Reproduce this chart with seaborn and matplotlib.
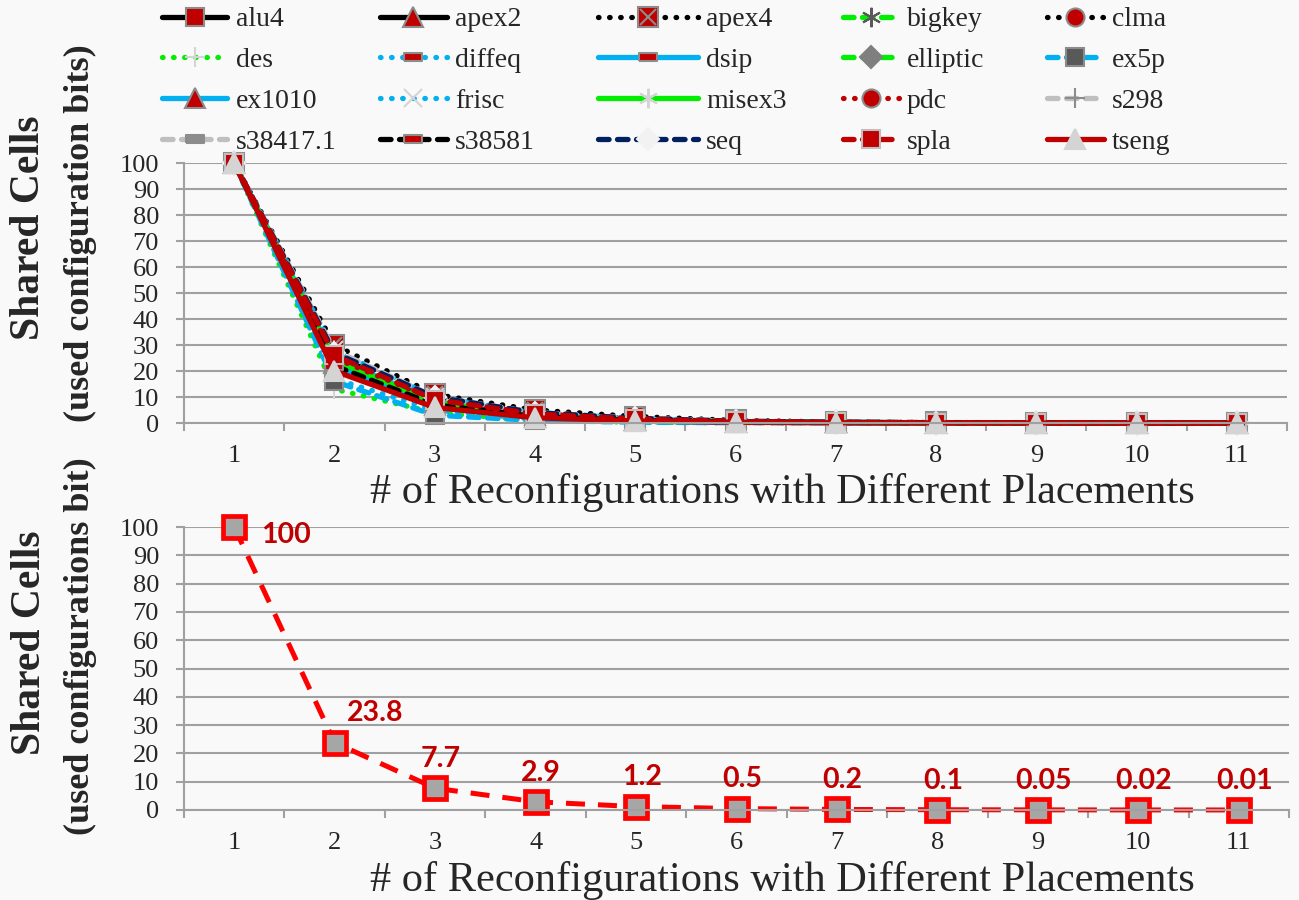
import matplotlib
matplotlib.use("Agg")
import numpy as np
import pandas as pd
import matplotlib.pyplot as plt
import seaborn as sns
from matplotlib.legend_handler import HandlerTuple

# Datos: celdas compartidas por benchmark
reconfigs = list(range(1, 12))

alu4 = [100, 24, 8, 3, 1.2, 0.5, 0.2, 0.1, 0.05, 0.02, 0.01]
apex2 = [100, 23, 7, 2.5, 1.0, 0.4, 0.2, 0.1, 0.05, 0.02, 0.01]
apex4 = [100, 30, 11, 5, 2.5, 1.0, 0.4, 0.2, 0.1, 0.05, 0.02]
bigkey = [100, 25, 8, 3, 1.2, 0.5, 0.2, 0.1, 0.05, 0.02, 0.01]
clma = [100, 26, 9, 3.5, 1.5, 0.6, 0.25, 0.1, 0.05, 0.02, 0.01]
des = [100, 13, 4, 1, 0.3, 0.1, 0.05, 0.02, 0.01, 0.0, 0.0]
diffeq = [100, 17, 5, 1.5, 0.5, 0.2, 0.1, 0.05, 0.02, 0.01, 0.0]
dsip = [100, 22, 6, 2, 0.7, 0.3, 0.1, 0.05, 0.02, 0.01, 0.0]
elliptic = [100, 26, 9, 3.5, 1.5, 0.6, 0.25, 0.1, 0.05, 0.02, 0.01]
ex5p = [100, 16, 3, 1, 0.3, 0.1, 0.05, 0.02, 0.01, 0.0, 0.0]
ex1010 = [100, 25, 8, 3, 1.2, 0.5, 0.2, 0.1, 0.05, 0.02, 0.01]
frisc = [100, 28, 10, 4, 1.8, 0.7, 0.3, 0.15, 0.07, 0.03, 0.01]
misex3 = [100, 24, 8, 3, 1.2, 0.5, 0.2, 0.1, 0.05, 0.02, 0.01]
pdc = [100, 25, 9, 3.5, 1.5, 0.6, 0.25, 0.1, 0.05, 0.02, 0.01]
s298 = [100, 28, 10, 4, 1.8, 0.7, 0.3, 0.15, 0.07, 0.03, 0.01]
s38417_1 = [100, 27, 10, 4, 1.8, 0.7, 0.3, 0.15, 0.07, 0.03, 0.01]
s38581 = [100, 22, 7, 2.5, 1.0, 0.4, 0.2, 0.1, 0.05, 0.02, 0.01]
seq = [100, 27, 10, 4, 1.8, 0.7, 0.3, 0.15, 0.07, 0.03, 0.01]
spla = [100, 26, 9, 3.5, 1.5, 0.6, 0.25, 0.1, 0.05, 0.02, 0.01]
tseng = [100, 20, 6, 2, 0.8, 0.3, 0.1, 0.05, 0.02, 0.01, 0.0]

average = [100, 23.8, 7.7, 2.9, 1.2, 0.5, 0.2, 0.1, 0.05, 0.02, 0.01]

names = ["alu4", "apex2", "apex4", "bigkey", "clma", "des", "diffeq", "dsip",
         "elliptic", "ex5p", "ex1010", "frisc", "misex3", "pdc", "s298",
         "s38417.1", "s38581", "seq", "spla", "tseng"]
series = [alu4, apex2, apex4, bigkey, clma, des, diffeq, dsip, elliptic, ex5p,
          ex1010, frisc, misex3, pdc, s298, s38417_1, s38581, seq, spla, tseng]

# Colores y estilos
BLACK = "#000000"
RED = "#C00000"
GREEN = "#00EE00"
BLUE = "#00B0F0"
NAVY = "#002060"
LGREY = "#BFBFBF"
MGREY = "#8C8C8C"
DGREY = "#595959"
PALE = "#D4D4D4"
GRID = "#A0A0A0"

SOLID = "-"
DOT = (0, (0.1, 2.0))
DASH = (0, (2.0, 1.6))
BAR = [(-1, -0.4), (1, -0.4), (1, 0.4), (-1, 0.4), (-1, -0.4)]
STAR = (6, 2, 0)

styles = {
    "alu4": (BLACK, SOLID, "s", RED, MGREY, 13),
    "apex2": (BLACK, SOLID, "^", RED, MGREY, 14),
    "apex4": (BLACK, DOT, "s", RED, MGREY, 14),
    "bigkey": (GREEN, DASH, STAR, DGREY, DGREY, 14),
    "clma": (BLACK, DOT, "o", RED, MGREY, 13),
    "des": (GREEN, DOT, "+", PALE, PALE, 14),
    "diffeq": (BLUE, DOT, BAR, RED, MGREY, 13),
    "dsip": (BLUE, SOLID, BAR, RED, MGREY, 13),
    "elliptic": (GREEN, DASH, "D", "#7F7F7F", "#7F7F7F", 11),
    "ex5p": (BLUE, DASH, "s", DGREY, MGREY, 13),
    "ex1010": (BLUE, SOLID, "^", RED, MGREY, 14),
    "frisc": (BLUE, DOT, "x", PALE, PALE, 13),
    "misex3": (GREEN, SOLID, STAR, PALE, PALE, 14),
    "pdc": (RED, DOT, "o", RED, MGREY, 13),
    "s298": (LGREY, DASH, "+", MGREY, MGREY, 14),
    "s38417.1": (LGREY, DASH, BAR, MGREY, MGREY, 13),
    "s38581": (BLACK, DASH, BAR, RED, MGREY, 13),
    "seq": (NAVY, DASH, "D", "#F2F2F2", "#F2F2F2", 11),
    "spla": (RED, DASH, "s", RED, LGREY, 13),
    "tseng": (RED, SOLID, "^", PALE, PALE, 15),
}

sns.set_style("white")
plt.rcParams["font.family"] = ["Liberation Serif", "DejaVu Serif"]

fig = plt.figure(figsize=(12.99, 9.0), dpi=100)
fig.patch.set_facecolor("#F9F9F9")
ax1 = fig.add_axes([184 / 1299, 1 - 423 / 900, 1103 / 1299, 260 / 900])
ax2 = fig.add_axes([184 / 1299, 1 - 810 / 900, 1105 / 1299, 283 / 900])


def style_axes(ax):
    ax.set_xlim(0.5, 11.5)
    ax.set_ylim(0, 100)
    ax.set_yticks(range(0, 101, 10))
    ax.set_xticks(reconfigs)
    ax.set_xticks(np.arange(0.5, 12, 1), minor=True)
    ax.tick_params(axis="x", which="major", length=0, pad=16, labelsize=19)
    ax.tick_params(axis="x", which="minor", length=6, width=1.5, color=GRID,
                   direction="out", bottom=True)
    ax.tick_params(axis="y", length=6, width=1.5, color=GRID, direction="out",
                   left=True, pad=12, labelsize=19)
    ax.grid(axis="y", color=GRID, lw=1.5)
    ax.grid(axis="x", visible=False)
    ax.set_axisbelow(True)
    for s in ["top", "right"]:
        ax.spines[s].set_visible(False)
    for s in ["left", "bottom"]:
        ax.spines[s].set_color(GRID)
        ax.spines[s].set_linewidth(1.5)
    ax.set_facecolor("none")
    ax.set_xlabel("")
    ax.set_ylabel("")


# Grafico superior: todas las series
handles = {}
for name, vals in zip(names, series):
    color, ls, marker, mfc, mec, ms = styles[name]
    sns.lineplot(x=reconfigs, y=vals, ax=ax1, color=color, linestyle=ls, lw=3.8,
                 marker=marker, markersize=ms, markerfacecolor=mfc,
                 markeredgecolor=mec, markeredgewidth=1.5, dash_capstyle="round",
                 label=name, legend=False, errorbar=None, clip_on=False)
    handles[name] = ax1.lines[-1]
    if name == "apex4":
        sns.lineplot(x=reconfigs, y=vals, ax=ax1, linestyle="none", marker="x",
                     markersize=12, markeredgecolor=MGREY, markeredgewidth=1.5,
                     label="_apex4x", legend=False, errorbar=None, clip_on=False)
        handles[name] = (handles[name], ax1.lines[-1])
style_axes(ax1)

# Leyenda: una columna por bloque, como en Excel
ncol = 5
col_x = [162, 380, 598, 843, 1047]
col_len = [2.35, 2.4, 3.6, 2.0, 2.05]
for c in range(ncol):
    col_names = names[c::ncol]
    fig.legend([handles[n] for n in col_names], col_names, loc="upper left",
               bbox_to_anchor=(col_x[c] / 1299, 1 - 7 / 900), frameon=False,
               prop={"family": "Liberation Serif", "size": 20},
               handlelength=col_len[c], handletextpad=0.3, labelspacing=0.55,
               borderaxespad=0.0, borderpad=0.0,
               handler_map={tuple: HandlerTuple(ndivide=1, pad=0)})

# Grafico inferior: promedio
sns.lineplot(x=reconfigs, y=average, ax=ax2, color="#FF0000", lw=3.6,
             linestyle=(0, (3.8, 2.6)), marker="s", markersize=16,
             markerfacecolor="#A6A6A6", markeredgecolor="#FF0000",
             markeredgewidth=3.4, legend=False, errorbar=None, clip_on=False)
style_axes(ax2)

for i, (x, v) in enumerate(zip(reconfigs, average)):
    if i == 0:
        off, ha = (19, -6), "left"
    elif i == 1:
        off, ha = (9, 21), "left"
    else:
        off, ha = (4, 21), "center"
    ax2.annotate(f"{v:g}", (x, v), xytext=off, textcoords="offset points",
                 ha=ha, va="center", color=RED, fontsize=20.5, weight="bold",
                 family=["Lato", "DejaVu Sans"])

# Titulos de ejes
xtitle = "# of Reconfigurations with Different Placements"
fig.text(782 / 1299, 1 - 493 / 900, xtitle, ha="center", va="center", fontsize=30.5)
fig.text(782 / 1299, 1 - 880 / 900, xtitle, ha="center", va="center", fontsize=30.5)
fig.text(29 / 1299, 1 - 228 / 900, "Shared Cells", rotation=90, ha="center",
         va="center", fontsize=30, weight="bold")
fig.text(80 / 1299, 1 - 233 / 900, "(used configuration bits)", rotation=90,
         ha="center", va="center", fontsize=26, weight="bold")
fig.text(30 / 1299, 1 - 643 / 900, "Shared Cells", rotation=90, ha="center",
         va="center", fontsize=30, weight="bold")
fig.text(80 / 1299, 1 - 646 / 900, "(used configurations bit)", rotation=90,
         ha="center", va="center", fontsize=26, weight="bold")

fig.savefig("out.png", dpi=100, facecolor=fig.get_facecolor())
